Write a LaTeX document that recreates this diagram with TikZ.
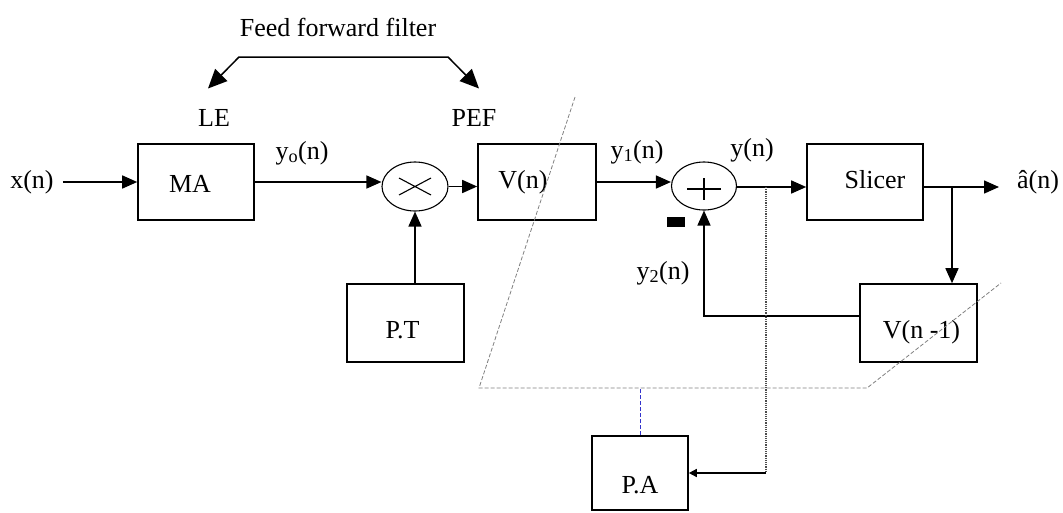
\documentclass[tikz,border=0pt]{standalone}
\usepackage{fontspec}
\setmainfont{Liberation Serif}
\usetikzlibrary{arrows.meta,shapes.geometric}
\begin{document}
\begin{tikzpicture}[x=1pt,y=-1pt,
  every node/.style={font=\fontsize{26}{30}\selectfont, inner sep=0pt},
  blk/.style={draw, line width=1.6pt},
  sum/.style={draw, ellipse, line width=1.1pt, minimum width=66pt, minimum height=49pt},
  arr/.style={-{Triangle[length=15pt,width=13pt]}, line width=1.5pt},
  smallarr/.style={-{Triangle[length=8pt,width=8pt]}, line width=1.5pt},
  bigarr/.style={{Triangle[length=19pt,width=17pt]}-{Triangle[length=19pt,width=17pt]}, line width=1.5pt},
  dots/.style={densely dotted, line width=1.2pt, black!70},
  frame/.style={dashed, dash pattern=on 4pt off 2pt, line width=0.8pt, gray},
  padash/.style={dashed, dash pattern=on 4pt off 2pt, line width=0.8pt, blue!60!gray}]
\useasboundingbox (0,0) rectangle (1063,512);

% blocks
\node[blk, minimum width=116pt, minimum height=76pt, label={[xshift=-6pt,yshift=-2pt]center:MA}] (ma) at (196,182) {};
\node[blk, minimum width=118pt, minimum height=76pt, label={[xshift=-14pt]center:V(n)}] (vn) at (537,182) {};
\node[blk, minimum width=116pt, minimum height=76pt, label={[xshift=10pt,yshift=2pt]center:Slicer}] (sl) at (865,182) {};
\node[blk, minimum width=117pt, minimum height=78pt, label={[xshift=3pt,yshift=-9pt]center:V(n -1)}] (vn1) at (918.5,323) {};
\node[blk, minimum width=117pt, minimum height=78pt, label={[xshift=-3pt,yshift=-7pt]center:P.T}] (pt) at (405.5,323) {};
\node[blk, minimum width=96pt, minimum height=74pt, label={[yshift=-12pt]center:P.A}] (pa) at (640,473) {};

% summing / multiplying junctions
\node[sum] (mul) at (415,186.5) {};
\draw[line width=1.1pt] ([shift={(-16,-8.5)}]mul.center) -- ([shift={(16,8.5)}]mul.center)
                      ([shift={(-16,8.5)}]mul.center) -- ([shift={(16,-8.5)}]mul.center);
\node[sum, minimum width=65pt, minimum height=48pt] (add) at (704,186) {};
\draw[line width=1.1pt] ([shift={(-17,3)}]add.center) -- ([shift={(17,3)}]add.center)
                      ([shift={(0,-8)}]add.center) -- ([shift={(0,14)}]add.center);
\fill (667,217) rectangle (685,227);

% texts
\node (ff) at (338,27) {Feed forward filter};
\node (le) at (214,118) {LE};
\node (pef) at (474,118) {PEF};
\node (xin) at (32,182) {x(n)};
\node (y0) at (302,153) {y\textsubscript{o}(n)};
\node (y1) at (637,152) {y\textsubscript{1}(n)};
\node (yy) at (752,150) {y(n)};
\node (y2) at (663,273) {y\textsubscript{2}(n)};
\node (ahat) at (1038,182) {â(n)};

% feed forward bracket
\coordinate (bl) at (208,88.5);
\coordinate (blc) at (239,57);
\coordinate (brc) at (448,57);
\coordinate (br) at (479,88.5);
\draw[bigarr] (bl) -- (blc) -- (brc) -- (br);

% signal path
\draw[arr] ([xshift=9pt]xin.east) -- (ma.west);
\draw[arr] (ma.east) -- (ma.east -| mul.west);
\draw[arr] (mul.east) -- (mul.east -| vn.west);
\draw[arr] (pt.north -| mul.south) -- (mul.south);
\draw[arr] (vn.east) -- (vn.east -| add.west);
\coordinate (tapo) at (sl.east |- 0,187);
\coordinate (aout) at (999,187);
\draw[arr] (add.east |- 0,187) -- (sl.west |- 0,187);
\draw[arr] (tapo) -- (aout);
\coordinate (brn) at (952,187);
\draw[arr] (brn) -- (brn |- vn1.north);
\draw[arr] ([yshift=7pt]vn1.west) -- ([yshift=7pt]vn1.west -| add.south) -- (add.south);

% adaptation paths
\coordinate (tap) at (766,187);
\draw[dots] (tap) -- (tap |- pa.east);
\draw[smallarr] (tap |- pa.east) -- (pa.east);
\draw[frame] (575,97) -- (479,388) -- (867,388) -- (1001,283);
\draw[padash] (pa.north) -- (pa.north |- 0,388);
\end{tikzpicture}
\end{document}
